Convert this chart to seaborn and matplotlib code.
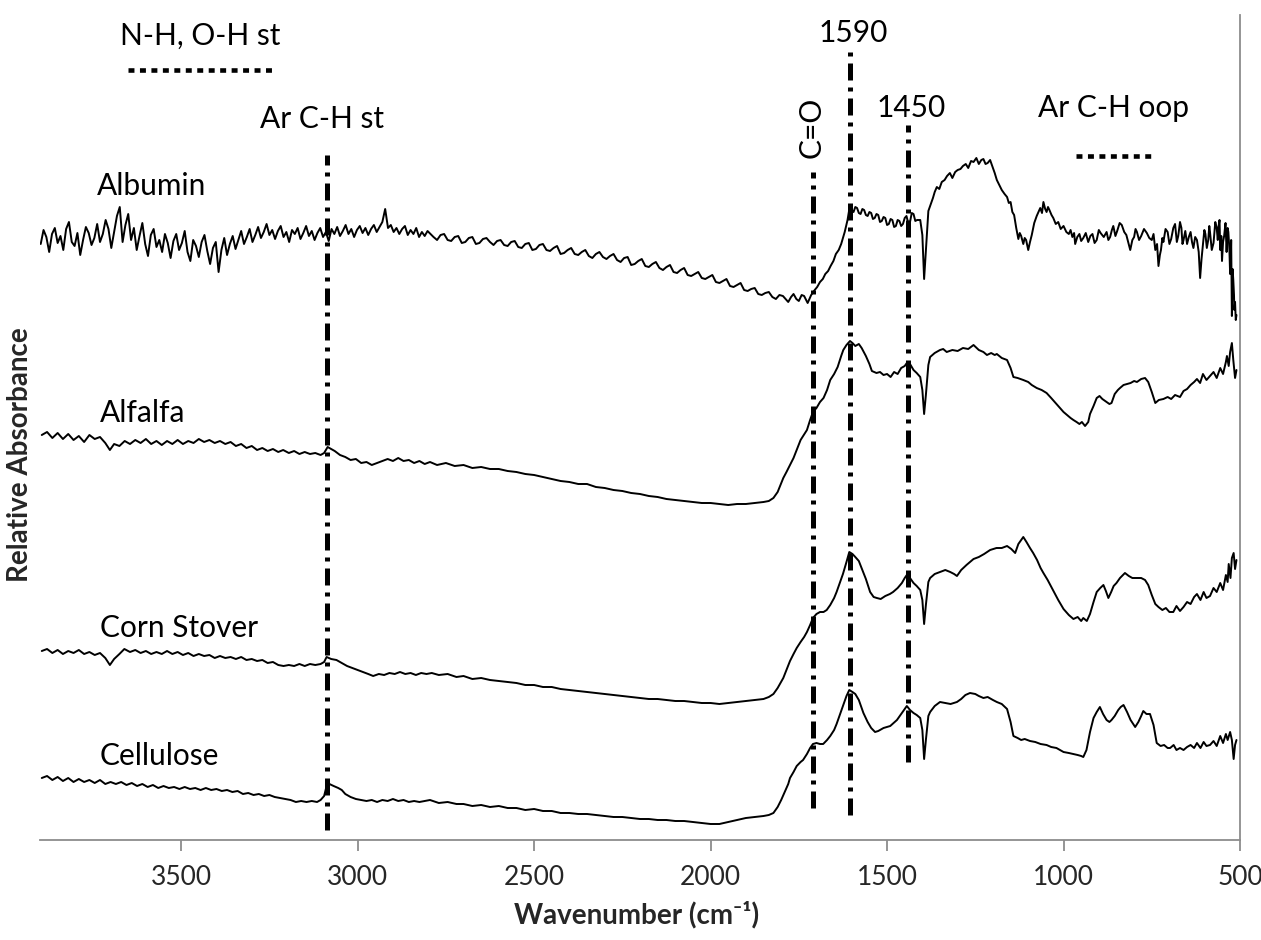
import matplotlib
matplotlib.use("Agg")
import matplotlib.pyplot as plt
import seaborn as sns
import pandas as pd

# ---------------- data (wavenumber cm-1, relative absorbance, arbitrary offset units) ----------------
albumin_pts = [
    (3898, 596), (3890, 610), (3882, 603), (3874, 588), (3866, 606), (3858, 612), (3850, 597), (3842, 604),
    (3834, 590), (3826, 611), (3818, 618), (3810, 598), (3802, 594), (3794, 607), (3786, 585), (3778, 600),
    (3770, 613), (3762, 607), (3754, 595), (3746, 602), (3738, 616), (3730, 598), (3722, 606), (3714, 620),
    (3706, 611), (3698, 592), (3690, 608), (3682, 624), (3674, 633), (3666, 598), (3658, 615), (3650, 626),
    (3642, 600), (3634, 612), (3626, 590), (3618, 604), (3610, 617), (3602, 596), (3594, 584), (3586, 605),
    (3578, 611), (3570, 593), (3562, 600), (3554, 588), (3546, 606), (3538, 597), (3530, 582), (3522, 599),
    (3514, 606), (3506, 590), (3498, 597), (3490, 609), (3482, 588), (3474, 579), (3466, 600), (3458, 594),
    (3450, 583), (3442, 598), (3434, 605), (3426, 589), (3418, 576), (3410, 592), (3402, 598), (3394, 568),
    (3386, 590), (3378, 602), (3370, 585), (3362, 596), (3354, 604), (3346, 591), (3338, 600), (3330, 609),
    (3322, 596), (3314, 603), (3306, 611), (3298, 598), (3290, 605), (3282, 613), (3274, 602), (3266, 608),
    (3258, 616), (3250, 605), (3242, 610), (3234, 601), (3226, 609), (3218, 614), (3210, 603), (3202, 608),
    (3194, 598), (3186, 610), (3178, 606), (3170, 612), (3162, 601), (3154, 607), (3146, 614), (3138, 604),
    (3130, 609), (3122, 600), (3114, 607), (3106, 612), (3098, 603), (3090, 608), (3082, 599), (3074, 611),
    (3066, 606), (3058, 613), (3050, 604), (3042, 609), (3034, 615), (3026, 606), (3018, 611), (3010, 603),
    (3002, 610), (2994, 614), (2986, 607), (2978, 612), (2970, 605), (2962, 611), (2954, 615), (2946, 608),
    (2938, 613), (2930, 618), (2922, 631), (2914, 612), (2906, 615), (2898, 608), (2890, 612), (2882, 606),
    (2874, 611), (2866, 614), (2858, 605), (2850, 610), (2842, 606), (2834, 612), (2826, 603), (2818, 608),
    (2810, 604), (2802, 609),
    (2785, 603), (2775, 600), (2765, 605), (2755, 606), (2745, 600), (2735, 599), (2725, 603), (2715, 604),
    (2705, 597), (2695, 598), (2685, 602), (2675, 603), (2665, 596), (2655, 597), (2645, 601), (2635, 602),
    (2625, 598), (2615, 595), (2605, 599), (2595, 600), (2585, 595), (2575, 594), (2565, 598), (2555, 599),
    (2545, 593), (2535, 592), (2525, 596), (2515, 597), (2505, 590), (2495, 591), (2485, 595), (2475, 596),
    (2465, 590), (2455, 589), (2445, 592), (2435, 594), (2425, 586), (2415, 587), (2405, 590), (2395, 592),
    (2385, 586), (2375, 585), (2365, 588), (2355, 590), (2345, 584), (2335, 582), (2325, 586), (2315, 588),
    (2305, 583), (2295, 581), (2285, 584), (2275, 586), (2265, 580), (2255, 578), (2245, 582), (2235, 583),
    (2225, 575), (2215, 576), (2205, 579), (2195, 581), (2185, 574), (2175, 573), (2165, 576), (2155, 578),
    (2145, 572), (2135, 570), (2125, 573), (2115, 575), (2105, 568), (2095, 567), (2085, 570), (2075, 572),
    (2065, 565), (2055, 564), (2045, 566), (2035, 568), (2025, 562), (2015, 561), (2005, 563), (1995, 565),
    (1985, 558), (1975, 557), (1965, 559), (1955, 561), (1945, 554), (1935, 553), (1925, 555), (1915, 557),
    (1905, 550), (1895, 549), (1885, 551), (1875, 552), (1865, 546), (1855, 545), (1845, 547), (1835, 548),
    (1825, 543), (1815, 541), (1805, 545), (1795, 544), (1780, 538), (1772, 543), (1765, 546), (1757, 541),
    (1750, 539), (1742, 545), (1735, 544), (1725, 537), (1715, 545), (1705, 550), (1698, 553), (1690, 558),
    (1682, 561), (1675, 566), (1667, 569), (1660, 574), (1652, 579), (1645, 586), (1637, 590), (1630, 596),
    (1620, 608), (1612, 620), (1605, 635), (1600, 630), (1595, 628), (1590, 633), (1585, 632), (1580, 627),
    (1575, 626), (1570, 631), (1565, 630), (1560, 625), (1555, 624), (1550, 628), (1545, 627), (1540, 621),
    (1535, 622), (1530, 626), (1525, 625), (1520, 618), (1515, 619), (1510, 623), (1505, 622), (1500, 615),
    (1495, 616), (1490, 621), (1485, 620), (1480, 613), (1475, 614), (1470, 620), (1465, 619), (1460, 614),
    (1455, 616), (1450, 622), (1445, 624), (1440, 617), (1435, 618), (1430, 627), (1425, 626), (1420, 619),
    (1415, 620), (1406, 620), (1400, 605), (1395, 561), (1390, 590), (1383, 629), (1376, 636), (1370, 642),
    (1365, 648), (1359, 653), (1352, 651), (1345, 658), (1337, 660), (1330, 664), (1322, 667), (1315, 662),
    (1307, 668), (1300, 670), (1292, 671), (1285, 674), (1277, 676), (1270, 672), (1262, 679), (1255, 678),
    (1247, 682), (1240, 676), (1233, 680), (1227, 681), (1221, 676), (1215, 677), (1208, 680), (1200, 672),
    (1195, 667), (1189, 660), (1182, 655), (1175, 650), (1167, 646), (1160, 643), (1155, 637), (1150, 638),
    (1145, 628), (1140, 625), (1134, 612), (1128, 601), (1124, 607), (1120, 604), (1114, 596), (1110, 602),
    (1106, 600), (1100, 590), (1095, 598), (1090, 605), (1083, 617), (1076, 624), (1071, 628), (1066, 632),
    (1061, 627), (1057, 638), (1052, 631), (1048, 628), (1044, 633), (1040, 630), (1034, 625), (1029, 622),
    (1022, 616), (1015, 618), (1008, 611), (1000, 614), (992, 608), (985, 606), (980, 610), (975, 603),
    (970, 607), (967, 596), (961, 603), (955, 606), (950, 599), (944, 602), (937, 607), (930, 598),
    (924, 604), (918, 606), (912, 597), (906, 600), (900, 610), (895, 607), (886, 603), (878, 608),
    (873, 600), (868, 603), (863, 610), (859, 614), (853, 604), (848, 609), (841, 617), (835, 615),
    (828, 608), (822, 605), (816, 597), (811, 590), (805, 600), (800, 603), (796, 611), (792, 608),
    (786, 600), (780, 604), (772, 611), (764, 607), (757, 602), (750, 600), (745, 606), (740, 590),
    (735, 596), (731, 574), (727, 585), (724, 590), (720, 602), (717, 598), (711, 611), (705, 608),
    (700, 596), (695, 601), (689, 612), (684, 616), (679, 598), (675, 604), (670, 618), (666, 612),
    (663, 596), (660, 600), (655, 609), (650, 596), (645, 603), (640, 608), (636, 598), (632, 592),
    (627, 603), (622, 600), (617, 588), (613, 562), (609, 581), (605, 595), (601, 610), (598, 606),
    (594, 592), (590, 600), (587, 614), (585, 608), (580, 590), (575, 597), (570, 618), (566, 612),
    (563, 600), (561, 613), (558, 620), (556, 590), (553, 604), (551, 579), (548, 598), (545, 604),
    (541, 617), (538, 588), (535, 612), (533, 608), (530, 590), (528, 566), (526, 584), (525, 600),
    (523, 524), (521, 571), (519, 560), (517, 545), (516, 530), (514, 538), (512, 520), (510, 525),
]

alfalfa_pts = [
    (3895, 405), (3880, 408), (3865, 402), (3850, 407), (3835, 401), (3820, 406), (3805, 400), (3790, 404),
    (3775, 398), (3760, 405), (3745, 401), (3730, 403), (3715, 397), (3702, 390), (3690, 396), (3675, 394),
    (3660, 399), (3645, 396), (3630, 400), (3615, 397), (3600, 401), (3585, 396), (3570, 399), (3555, 395),
    (3540, 399), (3525, 396), (3510, 400), (3495, 396), (3480, 399), (3465, 397), (3450, 401), (3435, 398),
    (3420, 400), (3405, 397), (3390, 399), (3375, 396), (3360, 398), (3345, 394), (3330, 396), (3315, 392),
    (3300, 394), (3285, 390), (3270, 392), (3255, 389), (3240, 391), (3225, 388), (3211, 390), (3195, 387),
    (3180, 389), (3165, 386), (3150, 388), (3135, 386), (3120, 387), (3105, 385), (3095, 387), (3085, 393),
    (3075, 391), (3065, 389), (3050, 385), (3035, 383), (3020, 380), (3005, 381), (2990, 377), (2975, 378),
    (2960, 375), (2945, 377), (2930, 379), (2915, 381), (2900, 379), (2885, 382), (2870, 379), (2855, 380),
    (2840, 377), (2825, 379), (2810, 376), (2795, 378), (2775, 375), (2750, 377), (2725, 374), (2700, 375),
    (2675, 372), (2650, 373), (2625, 371), (2600, 371), (2575, 369), (2550, 368), (2525, 366), (2500, 365),
    (2475, 363), (2450, 361), (2425, 359), (2400, 358), (2375, 356), (2350, 356), (2325, 353), (2300, 352),
    (2275, 350), (2250, 349), (2225, 347), (2200, 346), (2175, 344), (2150, 343), (2125, 341), (2100, 340),
    (2075, 339), (2050, 338), (2025, 337), (2000, 337), (1975, 336), (1950, 335), (1925, 336), (1900, 336),
    (1875, 337), (1850, 338), (1835, 339), (1822, 342), (1810, 348), (1794, 362), (1785, 368), (1775, 375),
    (1765, 382), (1756, 390), (1745, 400), (1727, 410), (1718, 420), (1710, 428), (1700, 432), (1690, 438),
    (1680, 442), (1670, 450), (1661, 460), (1650, 466), (1640, 473), (1630, 484), (1624, 490), (1615, 495),
    (1605, 499), (1598, 497), (1590, 494), (1580, 496), (1572, 492), (1560, 484), (1550, 476), (1543, 469),
    (1530, 467), (1520, 468), (1510, 465), (1500, 466), (1490, 463), (1480, 468), (1470, 466), (1460, 472),
    (1450, 474), (1442, 478), (1435, 476), (1425, 470), (1416, 467), (1406, 463), (1400, 450), (1395, 426),
    (1390, 445), (1383, 475), (1378, 483), (1365, 487), (1350, 490), (1341, 491), (1331, 488), (1315, 490),
    (1300, 489), (1285, 492), (1270, 491), (1255, 495), (1240, 490), (1227, 488), (1217, 485), (1205, 487),
    (1195, 485), (1189, 486), (1175, 482), (1160, 480), (1150, 472), (1142, 463), (1130, 462), (1114, 460),
    (1100, 458), (1090, 455), (1076, 452), (1062, 450), (1048, 447), (1035, 442), (1020, 436), (1010, 432),
    (1000, 428), (990, 425), (980, 422), (972, 420), (963, 418), (955, 416), (948, 418), (939, 414),
    (930, 418), (925, 426), (915, 434), (906, 442), (898, 444), (890, 441), (878, 438), (870, 436),
    (864, 437), (855, 446), (846, 450), (840, 452), (830, 455), (820, 456), (810, 457), (800, 459),
    (792, 458), (780, 461), (769, 462), (760, 458), (750, 448), (740, 437), (730, 440), (717, 441),
    (705, 443), (695, 441), (684, 445), (670, 443), (660, 449), (650, 451), (640, 455), (630, 458),
    (622, 461), (613, 457), (605, 466), (595, 460), (585, 464), (575, 468), (566, 462), (556, 472),
    (548, 466), (540, 478), (537, 484), (532, 474), (528, 488), (523, 497), (519, 480), (514, 462),
    (510, 470),
]

corn_stover_pts = [
    (3895, 189), (3880, 191), (3865, 187), (3850, 190), (3835, 186), (3820, 189), (3805, 187), (3790, 190),
    (3775, 186), (3760, 188), (3745, 185), (3730, 187), (3715, 182), (3702, 175), (3690, 181), (3675, 186),
    (3661, 191), (3645, 188), (3630, 190), (3615, 187), (3600, 189), (3585, 186), (3570, 188), (3555, 186),
    (3540, 189), (3525, 186), (3510, 188), (3495, 185), (3480, 187), (3465, 184), (3450, 186), (3435, 184),
    (3420, 185), (3405, 182), (3390, 184), (3375, 182), (3360, 183), (3345, 181), (3330, 183), (3315, 180),
    (3300, 181), (3285, 179), (3270, 180), (3255, 177), (3240, 178), (3225, 175), (3210, 174), (3195, 175),
    (3180, 174), (3165, 176), (3150, 174), (3135, 176), (3120, 175), (3105, 176), (3095, 178), (3088, 183),
    (3075, 181), (3060, 180), (3045, 177), (3030, 174), (3015, 172), (3000, 170), (2985, 168), (2970, 166),
    (2956, 164), (2940, 166), (2925, 165), (2910, 167), (2895, 166), (2880, 168), (2865, 166), (2850, 167),
    (2835, 165), (2820, 167), (2805, 166), (2790, 167), (2770, 165), (2745, 166), (2720, 163), (2700, 164),
    (2675, 161), (2650, 162), (2625, 160), (2600, 159), (2575, 158), (2550, 157), (2525, 155), (2500, 155),
    (2475, 153), (2450, 153), (2425, 151), (2400, 150), (2375, 149), (2350, 148), (2325, 147), (2300, 146),
    (2275, 145), (2250, 144), (2225, 143), (2200, 142), (2175, 141), (2150, 141), (2125, 140), (2100, 139),
    (2075, 139), (2050, 138), (2025, 137), (2000, 137), (1975, 136), (1950, 137), (1925, 138), (1900, 139),
    (1875, 140), (1850, 141), (1835, 143), (1822, 146), (1810, 152), (1794, 162), (1785, 170), (1775, 179),
    (1765, 186), (1756, 192), (1745, 198), (1735, 203), (1727, 208), (1718, 215), (1710, 222), (1700, 226),
    (1690, 228), (1680, 228), (1671, 230), (1661, 235), (1650, 242), (1643, 248), (1635, 256), (1625, 266),
    (1615, 278), (1607, 288), (1598, 286), (1590, 283), (1580, 279), (1570, 270), (1560, 261), (1548, 248),
    (1538, 243), (1529, 242), (1518, 241), (1505, 244), (1492, 246), (1483, 248), (1470, 252), (1458, 257),
    (1450, 262), (1444, 265), (1435, 262), (1425, 257), (1416, 254), (1406, 250), (1400, 240), (1395, 216),
    (1390, 235), (1383, 258), (1378, 262), (1365, 266), (1350, 268), (1335, 270), (1321, 268), (1310, 266),
    (1302, 264), (1290, 270), (1275, 275), (1255, 281), (1240, 283), (1225, 286), (1208, 290), (1190, 292),
    (1175, 292), (1160, 294), (1148, 291), (1137, 287), (1128, 296), (1120, 300), (1114, 303), (1105, 298),
    (1095, 292), (1086, 287), (1075, 280), (1065, 272), (1057, 267), (1045, 260), (1030, 250), (1015, 240),
    (1000, 231), (985, 225), (972, 221), (960, 223), (950, 219), (944, 222), (934, 219), (925, 226),
    (915, 238), (906, 248), (896, 252), (887, 255), (880, 249), (873, 242), (865, 248), (858, 254),
    (850, 257), (840, 262), (826, 267), (815, 264), (805, 262), (792, 262), (780, 262), (769, 260),
    (760, 255), (750, 245), (740, 236), (731, 233), (720, 230), (710, 232), (700, 228), (689, 228),
    (680, 234), (670, 229), (660, 233), (650, 238), (640, 236), (630, 243), (622, 246), (612, 240),
    (603, 248), (595, 242), (585, 244), (575, 252), (566, 248), (556, 257), (548, 250), (540, 265),
    (535, 258), (532, 276), (527, 262), (523, 282), (518, 287), (514, 271), (510, 280),
]

cellulose_pts = [
    (3895, 62), (3880, 64), (3865, 60), (3850, 63), (3835, 59), (3820, 62), (3805, 58), (3790, 61),
    (3775, 58), (3760, 60), (3745, 57), (3730, 60), (3715, 56), (3700, 58), (3685, 56), (3670, 58),
    (3655, 55), (3640, 57), (3625, 54), (3610, 56), (3595, 53), (3580, 55), (3565, 52), (3550, 54),
    (3535, 52), (3520, 53), (3505, 51), (3490, 53), (3475, 51), (3460, 52), (3445, 50), (3430, 52),
    (3415, 50), (3400, 51), (3385, 49), (3370, 50), (3355, 48), (3340, 49), (3325, 46), (3310, 47),
    (3295, 45), (3280, 46), (3265, 44), (3250, 45), (3235, 43), (3220, 42), (3205, 41), (3190, 40),
    (3175, 38), (3160, 39), (3145, 38), (3130, 39), (3115, 38), (3105, 40), (3095, 44), (3088, 54),
    (3080, 56), (3068, 54), (3055, 52), (3045, 50), (3035, 46), (3020, 43), (3005, 41), (2990, 40),
    (2975, 39), (2960, 40), (2945, 38), (2930, 40), (2915, 39), (2900, 41), (2885, 39), (2870, 40),
    (2855, 38), (2840, 39), (2825, 38), (2810, 39), (2795, 40), (2770, 37), (2745, 38), (2720, 36),
    (2700, 36), (2675, 34), (2650, 35), (2625, 33), (2600, 34), (2575, 32), (2550, 32), (2525, 30),
    (2500, 31), (2475, 29), (2450, 29), (2425, 27), (2400, 27), (2375, 26), (2350, 26), (2325, 25),
    (2300, 24), (2275, 23), (2250, 23), (2225, 22), (2200, 21), (2175, 21), (2150, 20), (2125, 20),
    (2100, 19), (2075, 19), (2050, 18), (2025, 17), (2000, 16), (1975, 16), (1950, 18), (1925, 20),
    (1900, 22), (1875, 23), (1850, 24), (1835, 25), (1822, 27), (1810, 33), (1800, 40), (1790, 48),
    (1780, 56), (1775, 62), (1765, 68), (1756, 74), (1745, 78), (1738, 80), (1727, 86), (1718, 92),
    (1710, 96), (1700, 97), (1690, 96), (1681, 96), (1670, 100), (1661, 104), (1650, 110), (1643, 116),
    (1635, 124), (1625, 134), (1615, 144), (1607, 150), (1598, 148), (1590, 146), (1580, 140), (1567, 127),
    (1555, 118), (1545, 112), (1534, 108), (1525, 109), (1510, 112), (1491, 114), (1472, 120), (1460, 126),
    (1450, 131), (1444, 134), (1435, 130), (1425, 127), (1416, 125), (1406, 122), (1400, 110), (1395, 81),
    (1390, 100), (1383, 124), (1378, 128), (1365, 134), (1350, 138), (1335, 137), (1320, 136), (1302, 138),
    (1290, 141), (1278, 145), (1265, 147), (1250, 146), (1240, 144), (1227, 142), (1215, 143), (1200, 140),
    (1189, 138), (1175, 136), (1160, 131), (1150, 118), (1142, 104), (1130, 102), (1120, 100), (1110, 101),
    (1095, 99), (1080, 98), (1065, 96), (1048, 95), (1035, 93), (1020, 92), (1000, 88), (985, 87),
    (972, 86), (960, 85), (950, 84), (944, 83), (935, 90), (925, 108), (915, 122), (906, 128),
    (897, 133), (888, 126), (878, 120), (870, 118), (864, 120), (855, 124), (845, 130), (838, 133),
    (830, 135), (820, 128), (810, 120), (797, 113), (788, 118), (780, 124), (774, 129), (765, 126),
    (755, 126), (745, 115), (736, 97), (725, 94), (715, 95), (705, 92), (698, 92), (688, 95),
    (680, 90), (670, 92), (660, 90), (650, 93), (640, 95), (630, 92), (622, 97), (612, 92),
    (603, 98), (595, 94), (585, 95), (575, 99), (566, 94), (556, 104), (548, 97), (540, 106),
    (535, 100), (528, 108), (523, 100), (518, 81), (514, 95), (510, 100),
]

series_names = ["Albumin", "Alfalfa", "Corn Stover", "Cellulose"]
series_points = [albumin_pts, alfalfa_pts, corn_stover_pts, cellulose_pts]

x_ticks = [3500, 3000, 2500, 2000, 1500, 1000, 500]
x_tick_labels = ["3500", "3000", "2500", "2000", "1500", "1000", "500"]

# vertical marker lines: wavenumber, lower and upper extent (absorbance units)
marker_wn = [3088, 1710, 1606, 1442]
marker_low = [10, 32, 25, 78]
marker_high = [685, 668, 790, 715]

# horizontal band markers (wavenumber span, height)
band_spans = [(3651, 3234), (964, 746)]
band_heights = [770, 684]

# ---------------- figure ----------------
sns.set_theme(style="white")
plt.rcParams["font.family"] = ["Lato", "DejaVu Sans"]

W, H = 1261, 940
fig = plt.figure(figsize=(W / 100, H / 100), dpi=100)
ax = fig.add_axes([40 / W, 100 / H, 1200 / W, 825 / H])

frames = []
for name, pts in zip(series_names, series_points):
    df = pd.DataFrame(pts, columns=["wavenumber", "absorbance"])
    df["sample"] = name
    frames.append(df)
data = pd.concat(frames, ignore_index=True)

for name in series_names:
    sns.lineplot(data=data[data["sample"] == name], x="wavenumber", y="absorbance",
                 color="black", linewidth=1.4, estimator=None, sort=False, ax=ax)

ax.set_xlim(3900, 500)
ax.set_ylim(0, 825)
ax.set_xticks(x_ticks)
ax.set_xticklabels(x_tick_labels)
ax.set_yticks([])
ax.set_xlabel("")
ax.set_ylabel("")

for side in ["left", "top"]:
    ax.spines[side].set_visible(False)
for side in ["bottom", "right"]:
    ax.spines[side].set_color("#8c8c8c")
    ax.spines[side].set_linewidth(1.3)
ax.tick_params(axis="x", direction="out", length=8, width=1.3, color="#8c8c8c",
               labelsize=19, pad=10, bottom=True)

# dash-dot marker lines
for wn, lo, hi in zip(marker_wn, marker_low, marker_high):
    ax.plot([wn, wn], [lo, hi], color="black", linewidth=3.6,
            linestyle=(0, (3.4, 1.4, 0.8, 1.4)), solid_capstyle="butt", dash_capstyle="butt")

for (a, b), hgt in zip(band_spans, band_heights):
    ax.plot([a, b], [hgt, hgt], color="black", linewidth=3.3,
            linestyle=(0, (1.3, 1.2)), dash_capstyle="butt")

# text placed by picture pixel positions
inv = ax.transData.inverted()
def px(x, y):
    return inv.transform((x, H - y))

fs = 21.5
def label(x, y, s, ha="left", va="baseline", rot=0):
    xd, yd = px(x, y)
    ax.text(xd, yd, s, ha=ha, va=va, rotation=rot, fontsize=fs, color="black", clip_on=False)

label(200, 45, "N-H, O-H st", ha="center")
label(322, 128, "Ar C-H st", ha="center")
label(853, 42, "1590", ha="center")
label(911, 117, "1450", ha="center")
label(1114, 117, "Ar C-H oop", ha="center")
label(812, 127, "C=O", ha="center", va="center", rot=90)
label(97, 195, "Albumin")
label(100, 422, "Alfalfa")
label(100, 637, "Corn Stover")
label(100, 765, "Cellulose")

fig.text(637 / W, 1 - 915 / H, "Wavenumber (cm\u207b\u00b9)", ha="center", va="center",
         fontsize=20, fontweight="bold")
fig.text(20 / W, 1 - 455 / H, "Relative Absorbance", ha="center", va="center",
         rotation=90, fontsize=20, fontweight="bold")

fig.savefig("out.png", dpi=100)
